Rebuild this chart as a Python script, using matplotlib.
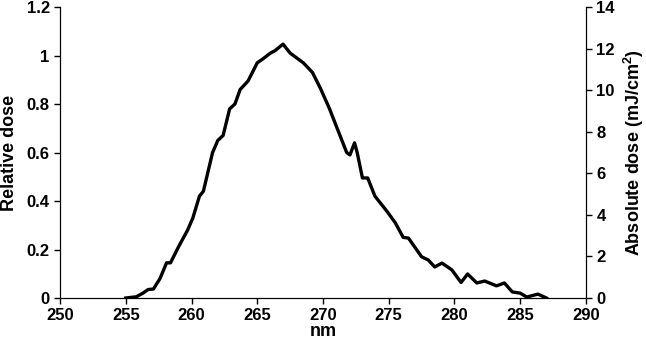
import matplotlib.pyplot as plt

plt.rcParams['font.family'] = ['Liberation Sans', 'DejaVu Sans']
plt.rcParams['font.weight'] = 'bold'
plt.rcParams['mathtext.fontset'] = 'custom'
plt.rcParams['mathtext.bf'] = 'Liberation Sans:bold'

# wavelength (nm) and relative dose
nm = [255.0, 255.8, 256.3, 256.7, 257.1, 257.6, 258.1, 258.4, 259.0, 259.7,
      260.1, 260.6, 260.9, 261.6, 262.0, 262.4, 262.9, 263.3, 263.7, 264.3,
      265.0, 265.4, 266.0, 266.35, 266.96, 267.5, 268.0, 268.5, 269.2, 269.8,
      270.5, 270.75, 271.8, 272.05, 272.4, 272.6, 273.0, 273.4, 273.95, 274.9,
      275.5, 276.1, 276.5, 277.5, 278.0, 278.5, 279.05, 279.8, 280.5, 281.0,
      281.7, 282.3, 283.2, 283.8, 284.4, 285.0, 285.5, 286.35, 287.0]
rel_dose = [0.0, 0.005, 0.02, 0.035, 0.037, 0.08, 0.145, 0.145, 0.21, 0.28,
            0.33, 0.42, 0.44, 0.60, 0.65, 0.67, 0.78, 0.80, 0.86, 0.895,
            0.97, 0.985, 1.01, 1.02, 1.047, 1.01, 0.99, 0.97, 0.93, 0.865,
            0.78, 0.745, 0.60, 0.59, 0.64, 0.60, 0.495, 0.495, 0.42, 0.355,
            0.31, 0.25, 0.247, 0.17, 0.157, 0.128, 0.144, 0.116, 0.064, 0.099,
            0.062, 0.07, 0.05, 0.062, 0.025, 0.02, 0.004, 0.016, 0.0]

x_ticks = [250, 255, 260, 265, 270, 275, 280, 285, 290]
y_ticks = [0, 0.2, 0.4, 0.6, 0.8, 1, 1.2]
y2_ticks = [0, 2, 4, 6, 8, 10, 12, 14]

fig = plt.figure(figsize=(6.46, 3.51), dpi=100)
ax = fig.add_axes([0.093, 0.151, 0.814, 0.829])
ax.plot(nm, rel_dose, color='black', linewidth=2.4, solid_joinstyle='round')

ax.set_xlim(250, 290)
ax.set_ylim(0, 1.2)
ax.set_xticks(x_ticks)
ax.set_yticks(y_ticks)
ax.set_yticklabels(['0', '0.2', '0.4', '0.6', '0.8', '1', '1.2'])
ax.set_xlabel('nm', fontsize=13, fontweight='bold', labelpad=0)
ax.set_ylabel('Relative dose', fontsize=13, fontweight='bold', labelpad=6)
ax.tick_params(labelsize=12, direction='out', length=4, width=1)
ax.spines['top'].set_visible(False)

ax2 = ax.twinx()
ax2.set_ylim(0, 14)
ax2.set_yticks(y2_ticks)
ax2.set_ylabel('Absolute dose (mJ/cm$^\\mathbf{2}$)', fontsize=13,
               fontweight='bold', labelpad=5)
ax2.tick_params(labelsize=12, direction='out', length=4, width=1)
ax2.spines['top'].set_visible(False)

fig.savefig('out.png', dpi=100)
